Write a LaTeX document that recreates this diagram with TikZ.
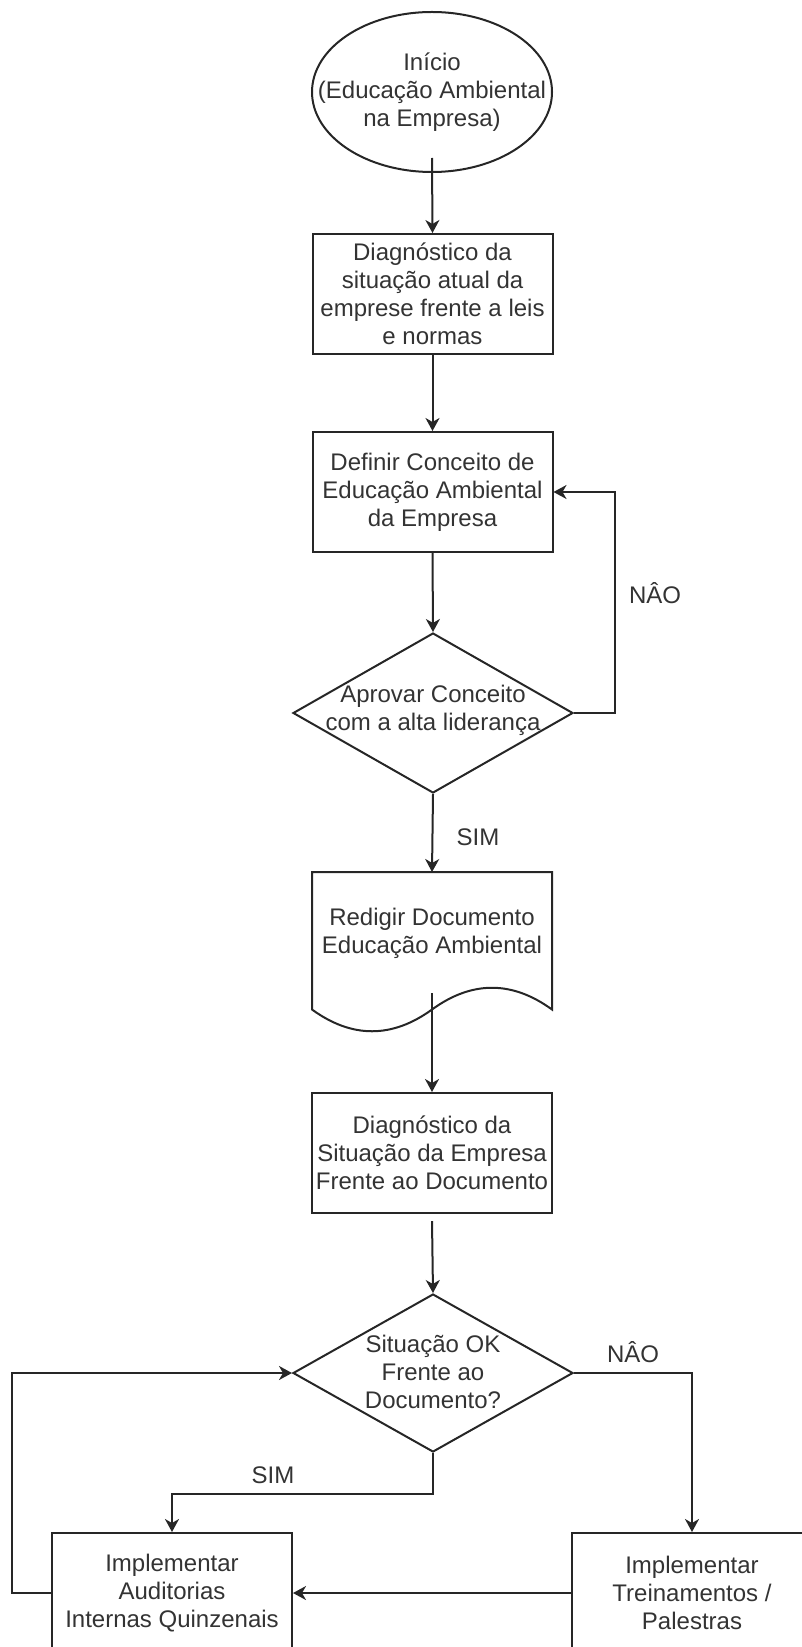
\documentclass[tikz,border=0pt]{standalone}
\usepackage{fontspec}
\setmainfont{Liberation Sans}
\usetikzlibrary{shapes.geometric,arrows.meta,calc}
\begin{document}
\begin{tikzpicture}[x=0.5pt,y=-0.5pt,
  line width=1pt,
  every node/.style={font=\fontsize{12pt}{14pt}\selectfont, text=black!80},
  shp/.style={draw=black!85, inner sep=0pt},
  box/.style={shp, rectangle, minimum width=120pt, minimum height=60pt, align=center},
  txt/.style={align=center, inner sep=0pt},
  lbl/.style={inner sep=0pt},
  arr/.style={draw=black!85, -{Stealth[length=6.5pt,width=7pt,inset=2pt]}}]
\useasboundingbox (0,0) rectangle (802,1647);

% shapes
\node[shp, ellipse, minimum width=120pt, minimum height=80pt] (start) at (432,92) {};
\node[txt] (startt) at (start) {Início\\(Educação Ambiental\\na Empresa)};

\node[box] (b1) at (432.5,294) {Diagnóstico da\\situação atual da\\emprese frente a leis\\e normas};
\node[box] (b2) at (432.5,492) {Definir Conceito de\\Educação Ambiental\\da Empresa};

\node[shp, diamond, minimum width=140pt, minimum height=80pt] (d1) at (433,713) {};
\node[txt] (d1t) at (433,710) {Aprovar Conceito\\com a alta liderança};

\draw[draw=black!85] (312,872) -- (552,872) -- (552,1009.5)
  .. controls (512,980.5) and (472,980.5) .. (432,1009.5)
  .. controls (392,1038.5) and (352,1038.5) .. (312,1009.5) -- cycle;
\node[txt] (doc) at (432,933) {Redigir Documento\\Educação Ambiental};
\coordinate (doctop) at (432,872);
\coordinate (docout) at (432,993);

\node[box] (b3) at (432,1153) {Diagnóstico da\\Situação da Empresa\\Frente ao Documento};

\node[shp, diamond, minimum width=140pt, minimum height=79pt] (d2) at (433,1373) {};
\node[txt] (d2t) at (433,1372) {Situação OK\\Frente ao\\Documento?};

\node[box] (b4) at (172,1593) {Implementar\\Auditorias\\Internas Quinzenais};
\node[box] (b5) at (692,1593) {Implementar\\Treinamentos /\\Palestras};

% connectors
\draw[arr] ([yshift=7.5pt]start.south) -- (b1.north);
\draw[arr] (b1.south) -- (b2.north);
\draw[arr] (b2.south) -- (d1.north);
\draw[arr] (d1.east) -- ++(41,0) |- (b2.east);
\draw[arr] (d1.south) -- (doctop);
\draw[arr] (docout) -- (b3.north);
\draw[arr] ([yshift=-3.5pt]b3.south) -- (d2.north);
\draw[arr] (d2.east) -| (b5.north);
\draw[arr] (d2.south) -- ++(0,41) -| (b4.north);
\draw[arr] (b5.west) -- (b4.east);
\draw[arr] (b4.west) -- ++(-39,0) |- (d2.west);

% labels
\node[lbl] (nao1) at (655,593) {NÂO};
\node[lbl] (sim1) at (478,837) {SIM};
\node[lbl] (nao2) at (633,1352) {NÂO};
\node[lbl] (sim2) at (273,1475) {SIM};
\end{tikzpicture}
\end{document}
